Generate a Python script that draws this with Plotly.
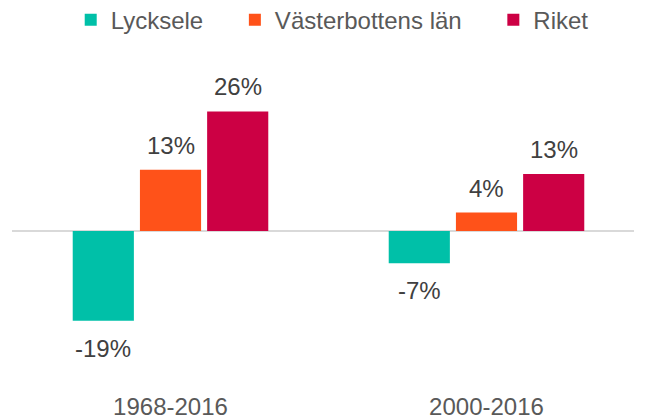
import plotly.graph_objects as go

categories = ["1968-2016", "2000-2016"]
series_names = ["Lycksele", "Västerbottens län", "Riket"]
lycksele = [-19.5, -7.0]
vasterbotten = [13.3, 4.0]
riket = [26.0, 12.4]
labels_lycksele = ["-19%", "-7%"]
labels_vasterbotten = ["13%", "4%"]
labels_riket = ["26%", "13%"]
colors = ["#00C0A8", "#FF5219", "#CC0044"]

values = [lycksele, vasterbotten, riket]
labels = [labels_lycksele, labels_vasterbotten, labels_riket]

# the page body has an 8px margin, so the figure is 8px smaller and shifted
W, H = 638, 410
bargap = 0.362
bargroupgap = 0.09
font_family = "Liberation Sans, Arial, sans-serif"

fig = go.Figure()
for name, vals, col in zip(series_names, values, colors):
    fig.add_trace(go.Bar(
        x=list(range(len(categories))), y=vals, name=name + "\u00a0" * 4,
        marker=dict(color=col, line=dict(width=0)),
        hoverinfo="skip",
    ))

# data labels as annotations, positioned from group geometry
pitch = (1 - bargap) / len(series_names)
for j, (vals, labs) in enumerate(zip(values, labels)):
    off = (j - (len(series_names) - 1) / 2) * pitch
    for i, (v, t) in enumerate(zip(vals, labs)):
        fig.add_annotation(
            x=i + off, y=v, xref="x", yref="y", text=t, showarrow=False,
            yanchor="bottom" if v >= 0 else "top",
            yshift=9 if v >= 0 else -12,
            font=dict(size=24, color="#404040", family=font_family),
        )

fig.update_layout(
    width=W, height=H, autosize=False,
    margin=dict(l=4, r=12, t=52, b=33, autoexpand=False),
    paper_bgcolor="white", plot_bgcolor="white",
    barmode="group", bargap=bargap, bargroupgap=bargroupgap,
    font=dict(family=font_family, color="#595959"),
    showlegend=True,
    legend=dict(orientation="h", x=0.0944, xanchor="left", y=0.9705, yanchor="middle",
                yref="container", font=dict(size=24, color="#595959"),
                itemclick=False, itemdoubleclick=False),
    xaxis=dict(
        tickmode="array", tickvals=list(range(len(categories))), ticktext=categories,
        range=[-0.5016, 1.4668], showgrid=False, zeroline=False, showline=False,
        tickfont=dict(size=24, color="#595959"), ticks="", ticklabelstandoff=5,
        automargin=False,
    ),
    yaxis=dict(
        range=[-33.48, 37.17], showgrid=False, showticklabels=False, automargin=False,
        zeroline=True, zerolinecolor="#D9D9D9", zerolinewidth=2, showline=False,
    ),
)

fig.write_html("out.html")
